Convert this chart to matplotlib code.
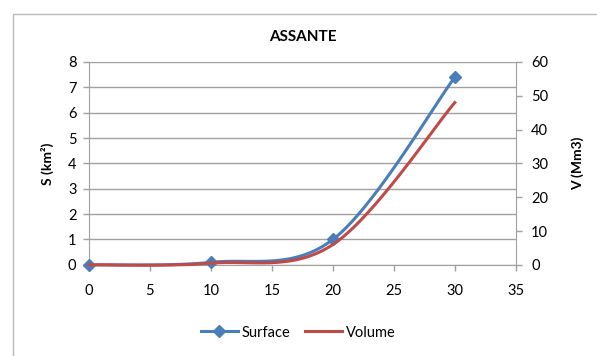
import numpy as np
import matplotlib.pyplot as plt
from matplotlib.patches import Rectangle

plt.rcParams['font.family'] = ['Lato', 'DejaVu Sans']

# data
depth = [0, 10, 20, 30]
surface = [0, 0.1, 1.0, 7.4]
volume = [0, 0.5, 6.0, 48.0]


def smooth(x, y, n=40):
    # Excel-like smoothed line (Catmull-Rom / Bezier with 1/6 tension)
    x = np.asarray(x, float); y = np.asarray(y, float)
    px = np.concatenate([[x[0]], x, [x[-1]]])
    py = np.concatenate([[y[0]], y, [y[-1]]])
    xs, ys = [], []
    t = np.linspace(0, 1, n)
    for i in range(1, len(px) - 2):
        p0 = np.array([px[i], py[i]])
        p3 = np.array([px[i + 1], py[i + 1]])
        p1 = p0 + (np.array([px[i + 1], py[i + 1]]) - np.array([px[i - 1], py[i - 1]])) / 6
        p2 = p3 - (np.array([px[i + 2], py[i + 2]]) - np.array([px[i], py[i]])) / 6
        b = ((1 - t) ** 3)[:, None] * p0 + (3 * (1 - t) ** 2 * t)[:, None] * p1 \
            + (3 * (1 - t) * t ** 2)[:, None] * p2 + (t ** 3)[:, None] * p3
        xs.extend(b[:, 0]); ys.extend(b[:, 1])
    return xs, ys


blue = '#4A7EBB'
red = '#BE4B48'
grid_c = '#A0A0A0'

fig = plt.figure(figsize=(5.97, 3.56), dpi=100)
fig.patches.append(Rectangle((0.022, -0.01), 0.99, 0.97, transform=fig.transFigure,
                             fill=False, edgecolor='#BBBBBB', lw=1))
ax = fig.add_axes([0.149, 0.256, 0.715, 0.570])
ax2 = ax.twinx()

sx, sy = smooth(depth, surface)
ax.plot(sx, sy, color=blue, lw=2.2, zorder=3, clip_on=False)
ax.plot(depth, surface, ls='none', marker='D', ms=6, color=blue, zorder=4, clip_on=False)
vx, vy = smooth(depth, volume)
ax2.plot(vx, vy, color=red, lw=2.2, clip_on=False)

ax.set_xlim(0, 35)
ax.set_ylim(0, 8)
ax2.set_ylim(0, 60)
ax.set_xticks(range(0, 36, 5))
ax.set_yticks(range(0, 9))
ax2.set_yticks(range(0, 61, 10))
ax.yaxis.grid(True, color=grid_c, lw=1)
ax.set_axisbelow(True)

for a in (ax, ax2):
    for s in a.spines.values():
        s.set_visible(False)
    a.tick_params(colors=grid_c, labelcolor='black', labelsize=10.5, length=4, width=1)
ax.spines['left'].set_visible(True)
ax.spines['left'].set_color(grid_c)
ax.spines['bottom'].set_visible(True)
ax.spines['bottom'].set_color(grid_c)
ax2.spines['right'].set_visible(True)
ax2.spines['right'].set_color(grid_c)
ax.tick_params(axis='x', pad=10)
ax.tick_params(axis='y', pad=5)
ax2.tick_params(axis='y', pad=7)

ax.set_ylabel('S (km²)', fontweight='bold', fontsize=10, labelpad=10)
ax2.set_ylabel('V (Mm3)', fontweight='bold', fontsize=10, labelpad=17)
ax.set_title('ASSANTE', fontweight='bold', fontsize=11, pad=15)

h1, = ax.plot([], [], color=blue, lw=2.2, marker='D', ms=6)
h2, = ax.plot([], [], color=red, lw=2.2)
fig.legend([h1, h2], ['Surface', 'Volume'], loc='center', bbox_to_anchor=(0.5, 0.066),
           ncol=2, frameon=False, fontsize=10.5, handlelength=2.5, columnspacing=1.0,
           handletextpad=0.3)

fig.savefig('out.png', dpi=100)
